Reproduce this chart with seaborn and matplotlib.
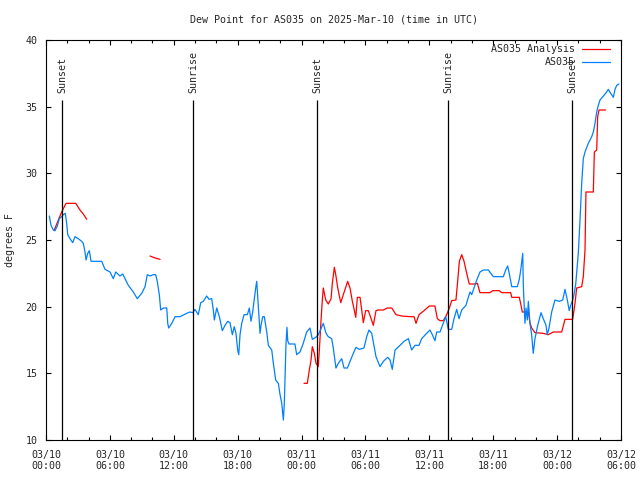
import numpy as np
import pandas as pd
import matplotlib
matplotlib.use('Agg')
import matplotlib.pyplot as plt
from matplotlib.ticker import MultipleLocator
import seaborn as sns

# hours since 03/10 00:00 UTC
obs_hours = [0.31, 0.47, 0.69, 0.85, 1.06, 1.25, 1.47, 1.62, 1.81, 1.94, 2.04, 2.25, 2.51, 2.72,
             3.03, 3.35, 3.50, 3.66, 3.76, 3.92, 4.07, 4.23, 5.23, 5.54, 6.01, 6.32, 6.55, 6.95,
             7.20, 7.42, 7.73, 8.20, 8.57, 8.99, 9.30, 9.51, 9.77, 10.08, 10.30, 10.45, 10.64,
             10.77, 11.02, 11.34, 11.43, 11.52, 11.81, 12.12, 12.58, 13.21, 13.52, 13.78, 13.99,
             14.30, 14.53, 14.77, 15.09, 15.31, 15.56, 15.71, 15.81, 16.03, 16.28, 16.56, 16.81,
             17.06, 17.28, 17.50, 17.68, 17.84, 18.00, 18.10, 18.22, 18.38, 18.60, 18.91, 19.09,
             19.25, 19.41, 19.53, 19.69, 19.79, 19.94, 20.03, 20.10, 20.19, 20.35, 20.50, 20.73,
             20.88, 21.20, 21.35, 21.57, 21.82, 21.98, 22.14, 22.29, 22.38, 22.54, 22.63, 22.70,
             22.82, 23.38, 23.54, 23.85, 24.16, 24.48, 24.79, 25.01, 25.33, 25.57, 25.80, 26.04,
             26.30, 26.51, 26.83, 26.98, 27.23, 27.45, 27.77, 27.99, 28.30, 28.55, 28.86, 29.11,
             29.42, 29.86, 30.12, 30.33, 30.59, 30.80, 30.99, 31.37, 31.68, 32.09, 32.31, 32.52,
             32.78, 33.25, 33.62, 34.03, 34.34, 34.65, 35.03, 35.28, 35.75, 36.06, 36.28, 36.53,
             36.69, 37.00, 37.31, 37.54, 37.78, 38.10, 38.32, 38.57, 38.79, 39.04, 39.44, 39.66,
             39.82, 39.98, 40.13, 40.45, 40.76, 41.07, 41.54, 42.01, 42.95, 43.17, 43.36, 43.48,
             43.74, 44.26, 44.45, 44.61, 44.77, 44.83, 44.92, 44.98, 45.08, 45.20, 45.30, 45.45,
             45.61, 45.76, 45.92, 46.18, 46.49, 46.70, 46.96, 47.08, 47.24, 47.49, 47.80, 48.21,
             48.53, 48.74, 48.96, 49.14, 49.28, 49.43, 49.59, 49.75, 49.90, 49.99, 50.15, 50.31,
             50.46, 50.62, 50.93, 51.25, 51.40, 51.56, 51.72, 51.87, 52.03, 52.34, 52.56, 52.81,
             53.03, 53.28, 53.44, 53.60, 53.81]
obs_dewpt = [26.8, 26.1, 25.75, 25.7, 26.05, 26.6, 26.75, 26.9, 27.0, 26.25, 25.4, 25.1, 24.8, 25.25,
             25.1, 24.9, 24.75, 24.1, 23.5, 24.0, 24.2, 23.4, 23.4, 22.8, 22.6, 22.1, 22.6, 22.3,
             22.45, 22.1, 21.6, 21.1, 20.6, 21.0, 21.5, 22.4, 22.3, 22.4, 22.4, 21.9, 20.9,
             19.75, 19.9, 19.9, 18.75, 18.4, 18.75, 19.25, 19.25, 19.5, 19.6, 19.55, 19.8,
             19.4, 20.3, 20.4, 20.8, 20.55, 20.6, 19.75, 19.0, 19.9, 19.25, 18.2, 18.6,
             18.9, 18.8, 17.9, 18.5, 18.0, 16.75, 16.4, 17.9, 18.75, 19.4, 19.4, 19.9,
             18.9, 19.6, 20.4, 21.4, 21.9, 20.0, 18.75, 18.0, 18.6, 19.25, 19.25, 18.1,
             17.1, 16.75, 15.75, 14.5, 14.25, 13.4, 12.75, 11.5, 12.75, 17.25, 18.45, 17.45,
             17.2, 17.2, 16.4, 16.6, 17.25, 18.1, 18.4, 17.55, 17.7, 17.9, 18.3, 18.75,
             18.0, 17.75, 17.6, 16.9, 15.4, 15.75, 16.1, 15.4, 15.4, 15.9, 16.5, 16.95,
             16.8, 16.9, 17.75, 18.25, 18.0, 17.1, 16.25, 15.5, 15.9, 16.2, 16.0, 15.3,
             16.75, 17.1, 17.4, 17.6, 16.75, 17.1, 17.1, 17.6, 18.0, 18.25, 17.9, 17.45,
             18.1, 18.1, 18.75, 19.25, 18.3, 18.3, 19.1, 19.8, 19.1, 19.75, 20.1, 20.7,
             21.1, 20.9, 21.25, 22.0, 22.6, 22.75, 22.75, 22.25, 22.25, 22.75, 23.05, 22.6,
             21.5, 21.5, 22.05, 22.9, 24.0, 21.5, 19.75, 18.75, 19.9, 19.0, 20.4, 18.75,
             17.9, 16.5, 17.6, 18.6, 19.55, 19.1, 18.6, 17.9, 18.4, 19.6, 20.5, 20.4,
             20.5, 21.3, 20.5, 19.7, 20.1, 20.4, 20.9, 21.7, 23.1, 24.0, 26.5, 29.25,
             31.1, 31.6, 32.25, 32.75, 33.1, 33.75, 34.6, 35.1, 35.5, 35.8, 36.0, 36.3,
             36.0, 35.7, 36.3, 36.6, 36.7]

# analysis, three pieces with gaps between them
ana_hours = [[0.75, 1.16, 1.47, 1.88, 2.79, 3.19, 3.50, 3.82],
             [9.77, 10.24, 10.71],
             [24.23, 24.54, 24.73, 24.89, 25.01, 25.20, 25.36, 25.57, 25.67, 25.83, 25.95, 26.04,
              26.14, 26.27, 26.51, 26.77, 26.89, 27.08, 27.21, 27.40, 27.68, 27.92, 28.33, 28.55,
              28.77, 28.95, 29.09, 29.24, 29.49, 29.65, 29.80, 30.02, 30.27, 30.49, 30.74, 30.99,
              31.21, 31.68, 32.05, 32.47, 32.87, 33.41, 34.19, 34.56, 34.75, 35.03, 35.50, 36.00,
              36.53, 36.75, 37.00, 37.31, 37.63, 37.88, 38.10, 38.50, 38.66, 38.82, 39.04, 39.26,
              39.51, 39.75, 40.29, 40.51, 40.76, 41.70, 41.95, 42.57, 42.80, 43.64, 43.74, 44.45,
              44.61, 44.73, 45.30, 45.45, 45.61, 45.92, 46.70, 47.17, 47.64, 48.43, 48.58, 48.74,
              49.46, 49.59, 49.68, 49.84, 50.31, 50.46, 50.62, 50.71, 51.40, 51.50, 51.72, 51.81,
              51.94, 52.56]]
ana_dewpt = [[25.7, 26.5, 27.1, 27.75, 27.75, 27.25, 26.95, 26.55],
             [23.8, 23.65, 23.55],
             [14.25, 14.25, 15.25, 16.0, 17.0, 16.5, 15.75, 15.5, 16.75, 19.0, 20.5, 21.4,
              21.0, 20.5, 20.2, 20.6, 21.75, 22.95, 22.4, 21.4, 20.3, 20.9, 21.9, 21.4,
              20.4, 19.75, 19.2, 20.7, 20.7, 19.75, 18.8, 19.7, 19.7, 19.2, 18.6, 19.7,
              19.75, 19.75, 19.9, 19.9, 19.4, 19.3, 19.25, 19.25, 18.75, 19.4, 19.7, 20.05,
              20.05, 19.1, 18.95, 18.95, 19.4, 19.9, 20.45, 20.5, 21.9, 23.4, 23.9, 23.4,
              22.5, 21.7, 21.7, 21.75, 21.05, 21.05, 21.2, 21.2, 21.05, 21.05, 20.7, 20.7,
              20.1, 19.6, 19.6, 18.8, 18.4, 18.05, 18.0, 17.9, 18.1, 18.1, 18.55, 19.05,
              19.05, 19.75, 20.25, 21.4, 21.5, 22.25, 24.25, 28.6, 28.6, 31.6, 31.75, 34.25,
              34.75, 34.75]]

sun_hours = [1.5, 13.8, 25.45, 37.75, 49.4]
sun_labels = ['Sunset', 'Sunrise', 'Sunset', 'Sunrise', 'Sunset']

tick_hours = [0, 6, 12, 18, 24, 30, 36, 42, 48, 54]
tick_labels = ['03/10\n00:00', '03/10\n06:00', '03/10\n12:00', '03/10\n18:00', '03/11\n00:00',
               '03/11\n06:00', '03/11\n12:00', '03/11\n18:00', '03/12\n00:00', '03/12\n06:00']

obs = pd.DataFrame({'hour': obs_hours, 'dewpt': obs_dewpt})
ana = pd.concat([pd.DataFrame({'hour': h, 'dewpt': d, 'seg': i})
                 for i, (h, d) in enumerate(zip(ana_hours, ana_dewpt))])

sns.set_style('ticks')
plt.rcParams['font.family'] = ['DejaVu Sans Mono']
plt.rcParams['font.size'] = 7.2
plt.rcParams['xtick.direction'] = 'in'
plt.rcParams['ytick.direction'] = 'in'

red = '#ff0000'
blue = '#0080ff'

fig = plt.figure(figsize=(6.4, 4.8), dpi=100)
ax = fig.add_axes([0.0719, 0.0833, 0.8984, 0.8334])

sns.lineplot(data=ana, x='hour', y='dewpt', units='seg', estimator=None, sort=False,
             color=red, lw=0.9, ax=ax)
red_line = ax.lines[-1]
sns.lineplot(data=obs, x='hour', y='dewpt', estimator=None, sort=False,
             color=blue, lw=0.9, ax=ax)
blue_line = ax.lines[-1]

ax.vlines(sun_hours, 10, 35.5, color='black', lw=0.9)
for h, lab in zip(sun_hours, sun_labels):
    ax.text(h, 36, lab, rotation=90, ha='center', va='bottom', fontsize=7.2)

ax.set_xlim(0, 54)
ax.set_ylim(10, 40)
ax.set_xticks(tick_hours)
ax.set_xticklabels(tick_labels)
ax.xaxis.set_minor_locator(MultipleLocator(2))
ax.set_yticks([10, 15, 20, 25, 30, 35, 40])
ax.tick_params(which='both', top=True, right=True, width=0.8, color='black', labelsize=7.2)
ax.tick_params(which='major', length=3.5)
ax.tick_params(which='minor', length=2)
ax.tick_params(axis='x', pad=7)
ax.tick_params(axis='y', pad=6)
for s in ax.spines.values():
    s.set_linewidth(0.8)
    s.set_color('black')

ax.set_xlabel('')
ax.set_ylabel('degrees F', fontsize=7.2, labelpad=8)
ax.set_title('Dew Point for AS035 on 2025-Mar-10 (time in UTC)', fontsize=7.2, pad=12.5)

leg = ax.legend([red_line, blue_line], ['AS035 Analysis', 'AS035'], loc='upper right',
                bbox_to_anchor=(0.988, 0.999), borderaxespad=0,
                frameon=False, markerfirst=False, handlelength=2.8, fontsize=7.2,
                labelspacing=0.3, handletextpad=0.7)
for col in leg._legend_handle_box.get_children():
    col.align = 'right'

fig.savefig('out.png', dpi=100)
